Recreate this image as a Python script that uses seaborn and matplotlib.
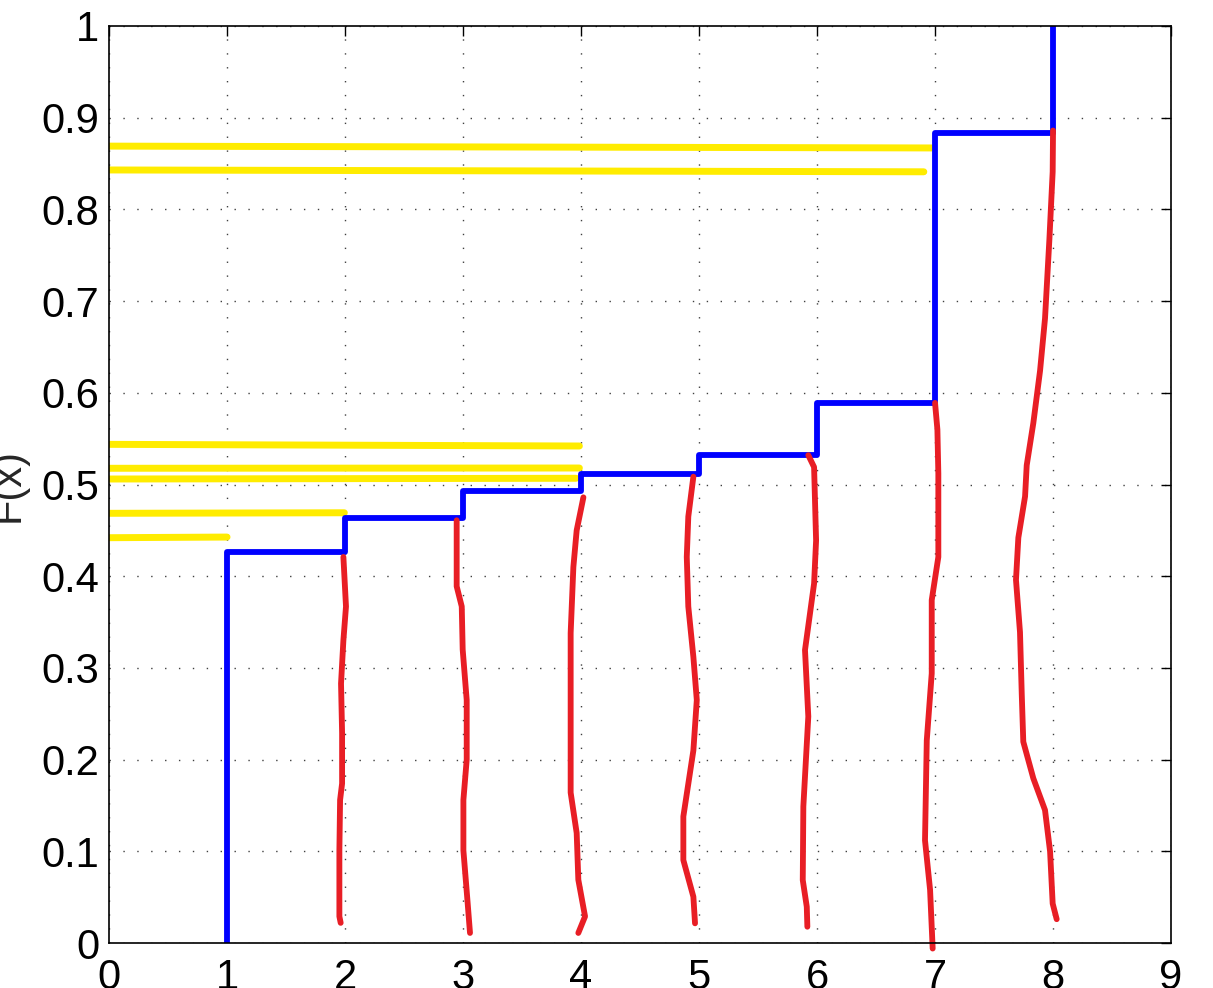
import numpy as np
import pandas as pd
import seaborn as sns
import matplotlib
matplotlib.use("Agg")
import matplotlib.pyplot as plt
from matplotlib.ticker import FormatStrFormatter

# step CDF values (blue)
step_x = [1, 1, 2, 3, 4, 5, 6, 7, 8]
step_y = [0, 0.4265, 0.4640, 0.4925, 0.5115, 0.5325, 0.589, 0.883, 1.0]

# hand drawn horizontal marks (yellow): x start, x end, y start, y end
yel_x0 = [0, 0, 0, 0, 0, 0, 0]
yel_x1 = [6.975, 6.905, 3.986, 3.986, 3.958, 1.994, 1.0]
yel_y0 = [0.869, 0.843, 0.5438, 0.5177, 0.506, 0.4686, 0.442]
yel_y1 = [0.867, 0.841, 0.542, 0.518, 0.5068, 0.4692, 0.4427]

# hand drawn vertical strokes (red)
red1_x = [1.986, 2.008, 1.986, 1.966, 1.975, 1.975, 1.958, 1.952, 1.952, 1.963]
red1_y = [0.421, 0.367, 0.330, 0.283, 0.229, 0.174, 0.156, 0.101, 0.029, 0.022]
red2_x = [2.946, 2.946, 2.989, 2.997, 3.031, 3.031, 3.003, 3.003, 3.037, 3.059]
red2_y = [0.461, 0.389, 0.367, 0.320, 0.265, 0.200, 0.156, 0.101, 0.047, 0.011]
red3_x = [4.02, 3.963, 3.935, 3.912, 3.912, 3.912, 3.963, 3.977, 4.034, 3.977]
red3_y = [0.486, 0.450, 0.410, 0.338, 0.229, 0.164, 0.120, 0.069, 0.029, 0.011]
red4_x = [4.952, 4.909, 4.896, 4.909, 4.952, 4.981, 4.952, 4.867, 4.867, 4.952, 4.966]
red4_y = [0.5085, 0.465, 0.421, 0.367, 0.312, 0.265, 0.210, 0.138, 0.0905, 0.0505, 0.0215]
red5_x = [5.926, 5.975, 5.992, 5.975, 5.898, 5.926, 5.884, 5.879, 5.913, 5.918]
red5_y = [0.532, 0.519, 0.439, 0.392, 0.3195, 0.247, 0.149, 0.0687, 0.0396, 0.0178]
red6_x = [7.0, 7.02, 7.028, 7.028, 6.972, 6.972, 6.930, 6.915, 6.958, 6.980]
red6_y = [0.589, 0.56, 0.512, 0.421, 0.374, 0.294, 0.221, 0.112, 0.058, -0.006]
red7_x = [8.0, 7.997, 7.969, 7.932, 7.890, 7.833, 7.777, 7.763, 7.706, 7.686,
          7.720, 7.735, 7.748, 7.833, 7.932, 7.975, 7.997, 8.031]
red7_y = [0.886, 0.841, 0.767, 0.681, 0.624, 0.567, 0.521, 0.487, 0.442, 0.396,
          0.339, 0.271, 0.2195, 0.1796, 0.145, 0.0998, 0.043, 0.026]

red_strokes = [(red1_x, red1_y), (red2_x, red2_y), (red3_x, red3_y), (red4_x, red4_y),
               (red5_x, red5_y), (red6_x, red6_y), (red7_x, red7_y)]

red_df = pd.concat([pd.DataFrame({"x": sx, "y": sy, "stroke": i})
                    for i, (sx, sy) in enumerate(red_strokes)], ignore_index=True)
yel_df = pd.concat([pd.DataFrame({"x": [yel_x0[i], yel_x1[i]], "y": [yel_y0[i], yel_y1[i]], "stroke": i})
                    for i in range(len(yel_x0))], ignore_index=True)
step_df = pd.DataFrame({"x": step_x, "y": step_y})

sns.set_style("white")
plt.rcParams['font.family'] = ['Liberation Sans', 'DejaVu Sans']

fig = plt.figure(figsize=(12.13, 9.88), dpi=100)
ax = fig.add_axes([0.0899, 0.0455, 0.8755, 0.9282])

sns.lineplot(data=yel_df, x="x", y="y", units="stroke", estimator=None, sort=False,
             color="#ffec00", linewidth=5.0, ax=ax, legend=False)
sns.lineplot(data=step_df, x="x", y="y", estimator=None, sort=False, drawstyle="steps-post",
             color="#0000ff", linewidth=4.2, ax=ax, legend=False)
sns.lineplot(data=red_df, x="x", y="y", units="stroke", estimator=None, sort=False,
             color="#e81e25", linewidth=4.2, ax=ax, legend=False, clip_on=False,
             solid_capstyle="round", solid_joinstyle="round")

ax.set_xlim(0, 9)
ax.set_ylim(0, 1)
ax.set_xticks(np.arange(0, 10, 1))
ax.set_yticks(np.arange(0, 1.01, 0.1))
ax.yaxis.set_major_formatter(FormatStrFormatter('%g'))
ax.grid(True, color="0.25", linestyle=(0, (1, 9)), linewidth=1.0)
ax.tick_params(direction="in", length=7, width=1, top=True, right=True,
               labelsize=30, colors="black")
ax.tick_params(axis="x", pad=11)
ax.tick_params(axis="y", pad=7)
for sp in ax.spines.values():
    sp.set_color("black")
    sp.set_linewidth(1.2)

ax.set_xlabel("")
ax.set_ylabel("F(x)", fontsize=30)
ax.yaxis.set_label_coords(-0.077, 0.5)

fig.savefig("out.png", dpi=100)
